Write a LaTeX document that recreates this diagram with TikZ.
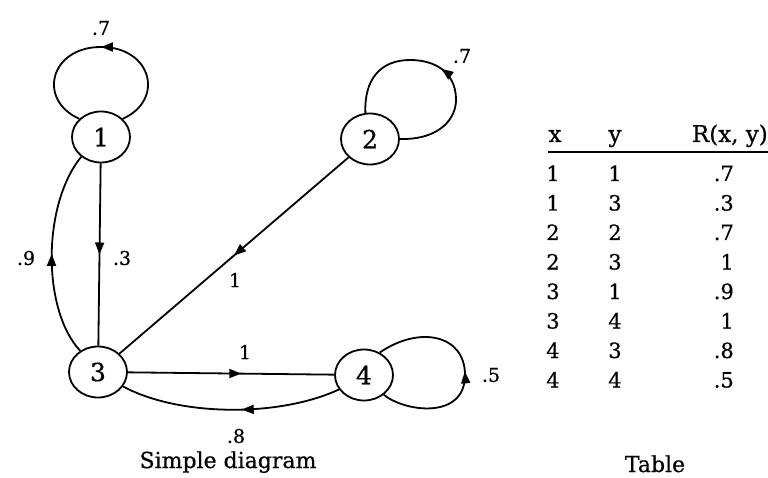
\documentclass[tikz,border=0pt]{standalone}
\usepackage{fontspec}
\setmainfont{DejaVu Serif}[FakeBold=0.6]
\newfontfamily\heavyserif{DejaVu Serif}[FakeBold=0.6]
\usetikzlibrary{shapes.geometric,arrows.meta,decorations.markings}
\begin{document}
\begin{tikzpicture}[x=1pt,y=-1pt,
  state/.style={ellipse,draw,line width=1.8pt,fill=white,minimum width=58pt,minimum height=51pt,inner sep=0pt,font=\heavyserif\fontsize{25}{27}\selectfont},
  edge/.style={line width=1.8pt},
  lbl/.style={inner sep=0pt,font=\heavyserif\fontsize{19}{21}\selectfont},
  cell/.style={inner sep=0pt,anchor=base,font=\heavyserif\fontsize{21}{23}\selectfont},
  hcell/.style={inner sep=0pt,anchor=base,font=\heavyserif\fontsize{23}{25}\selectfont},
  captext/.style={inner sep=0pt,anchor=base,font=\heavyserif\fontsize{22}{24}\selectfont},
  midarrow/.style={postaction={decorate},decoration={markings,mark=at position #1 with {\arrow{Triangle[length=12pt,width=9pt]}}}},
  midarrow/.default=0.5]
\useasboundingbox (0,0) rectangle (768,478);
% states
\node[state] (n1) at (101,137) {1};
\node[state] (n2) at (370,139) {2};
\node[state] (n3) at (98,372) {3};
\node[state] (n4) at (364,375) {4};
% loops
\draw[edge,midarrow] (n1.40) .. controls (165,100) and (152,47) .. (101,47)
  .. controls (50,47) and (37,100) .. (n1.140)
  node[lbl] at (101,28) {.7};
\draw[edge,midarrow=0.5] (n2.east) .. controls (440,140) and (457,118) .. (456,98)
  .. controls (455,72) and (435,60) .. (410,60)
  .. controls (380,60) and (364,80) .. (n2.100)
  node[lbl] at (462,56) {.7};
\draw[edge,midarrow=0.5] (n4.-45) .. controls (405,412) and (465,420) .. (465,375)
  .. controls (465,335) and (420,325) .. (n4.55)
  node[lbl] at (491,375) {.5};
% edges
\draw[edge,midarrow] (n1) -- (n3) node[lbl] at (122,258) {.3};
\draw[edge,midarrow] (n3.130) .. controls (42,310) and (42,205) .. (n1.225)
  node[lbl] at (26,258) {.9};
\draw[edge,midarrow] (n2) -- (n3) node[lbl] at (235,280) {1};
\draw[edge,midarrow=0.55] (n3) -- (n4) node[lbl] at (245,352) {1};
\draw[edge,midarrow=0.45] (n4.210) .. controls (280,417) and (180,417) .. (n3.-30)
  node[lbl] at (236,436) {.8};
% table
\node[hcell] (hx) at (555,142) {x};
\node[hcell] (hy) at (615,142) {y};
\node[hcell,anchor=base east] (hr) at (768,142) {R(x, y)};
\coordinate (rl) at (548,152);
\coordinate (rr) at (768,152);
\draw[line width=1.5pt] (rl) -- (rr);
\node[cell] (x1) at (553,181) {1};   \node[cell] (y1) at (615,181) {1};   \node[cell,anchor=base east] (r1) at (734,181) {.7};
\node[cell] (x2) at (553,210.5) {1}; \node[cell] (y2) at (615,210.5) {3}; \node[cell,anchor=base east] (r2) at (734,210.5) {.3};
\node[cell] (x3) at (553,240) {2};   \node[cell] (y3) at (615,240) {2};   \node[cell,anchor=base east] (r3) at (734,240) {.7};
\node[cell] (x4) at (553,269.5) {2}; \node[cell] (y4) at (615,269.5) {3}; \node[cell,anchor=base east] (r4) at (734,269.5) {1};
\node[cell] (x5) at (553,299) {3};   \node[cell] (y5) at (615,299) {1};   \node[cell,anchor=base east] (r5) at (734,299) {.9};
\node[cell] (x6) at (553,328.5) {3}; \node[cell] (y6) at (615,328.5) {4}; \node[cell,anchor=base east] (r6) at (734,328.5) {1};
\node[cell] (x7) at (553,358) {4};   \node[cell] (y7) at (615,358) {3};   \node[cell,anchor=base east] (r7) at (734,358) {.8};
\node[cell] (x8) at (553,387.5) {4}; \node[cell] (y8) at (615,387.5) {4}; \node[cell,anchor=base east] (r8) at (734,387.5) {.5};
% captions
\node[captext] (c1) at (228,468) {Simple diagram};
\node[captext] (c2) at (655,472) {Table};
\end{tikzpicture}
\end{document}
